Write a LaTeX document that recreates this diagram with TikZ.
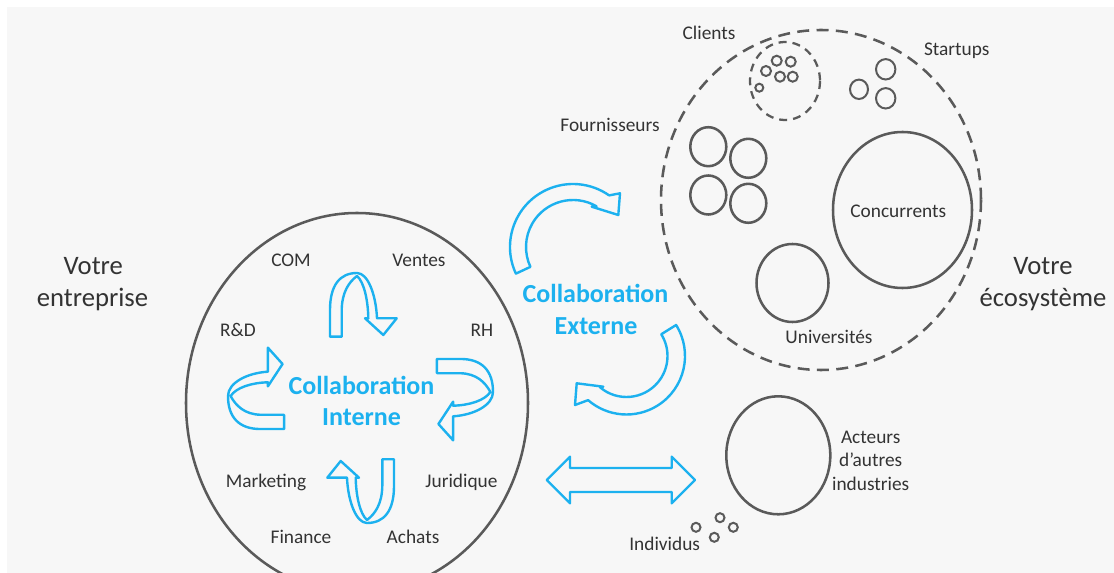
\documentclass[tikz,border=0pt]{standalone}
\usepackage{fontspec}
\setmainfont{Carlito}
\definecolor{bgc}{HTML}{F7F7F7}
\definecolor{inkc}{HTML}{333333}
\definecolor{ringc}{HTML}{5A5A5A}
\definecolor{bluec}{HTML}{1CB1EF}
\tikzset{
  ringline/.style={draw=ringc, line width=1.9pt},
  smallring/.style={draw=ringc, line width=1.5pt},
  dashring/.style={draw=ringc, line width=1.9pt, dash pattern=on 9pt off 5.5pt},
  dashsmall/.style={draw=ringc, line width=1.7pt, dash pattern=on 6pt off 4.5pt},
  blueshape/.style={draw=bluec, line width=1.8pt, line join=round},
  lab/.style={text=inkc, font=\fontsize{14.5}{17}\selectfont, inner sep=0pt, anchor=base},
  biglab/.style={text=inkc, font=\fontsize{20}{24}\selectfont, inner sep=0pt, anchor=base},
  bluelab/.style={text=bluec, font=\bfseries\fontsize{19.5}{23}\selectfont, inner sep=0pt, anchor=base},
}
% ribbon-like U-turn arrow; #1 width scale, #2 depth scale, #3 outward offset
\newcommand{\ribbonarrow}[3]{%
  \draw[blueshape] ({-32*#1},{-61.3*#2+(#3)}) -- ({-32*#1},{-88*#2+(#3)})
    .. controls ({-32*#1},{-113*#2+(#3)}) and ({-22*#1},{-125*#2+(#3)}) .. ({-5*#1},{-125*#2+(#3)})
    .. controls ({6*#1},{-125*#2+(#3)}) and ({14*#1},{-103*#2+(#3)}) .. ({15*#1},{-79.7*#2+(#3)})
    -- ({34.7*#1},{-79.7*#2+(#3)}) -- ({21.3*#1},{-63*#2+(#3)}) -- ({3*#1},{-79.7*#2+(#3)})
    -- ({6.3*#1},{-79.7*#2+(#3)})
    .. controls ({6*#1},{-98*#2+(#3)}) and ({2*#1},{-116*#2+(#3)}) .. ({-5*#1},{-122*#2+(#3)})
    .. controls ({-13*#1},{-116*#2+(#3)}) and ({-20*#1},{-106*#2+(#3)}) .. ({-20.3*#1},{-88*#2+(#3)})
    -- ({-20.3*#1},{-61.3*#2+(#3)}) -- cycle;}
\begin{document}
\begin{tikzpicture}[x=0.75pt,y=-0.75pt]
\useasboundingbox (0,0) rectangle (1114,573);
\clip (0,0) rectangle (1114,573);
\fill[white] (0,0) rectangle (1114,573);
\fill[bgc] (7,7) rectangle (1114,573);

% ---------- your company ----------
\draw[ringline] (357,403) ellipse [x radius=171, y radius=190];

\begin{scope}[shift={(362,398)}] \ribbonarrow{1}{1}{0} \end{scope}
\begin{scope}[shift={(362,398)},rotate=180] \ribbonarrow{1}{1}{0} \end{scope}
\begin{scope}[shift={(362,398)},rotate=-90] \ribbonarrow{1.22}{0.88}{-21} \end{scope}
\begin{scope}[shift={(362,390)},rotate=90] \ribbonarrow{1.22}{0.88}{-24} \end{scope}

\node[lab] (com) at (291,267) {COM};
\node[lab] (ventes) at (419,267) {Ventes};
\node[lab] (rd) at (238,337) {R\&D};
\node[lab] (rh) at (482,337) {RH};
\node[lab] (marketing) at (266,488) {Marketing};
\node[lab] (juridique) at (461.5,488) {Juridique};
\node[lab] (finance) at (301,543) {Finance};
\node[lab] (achats) at (413,543) {Achats};

\node[bluelab] (ci1) at (361.5,395) {Collaboration};
\node[bluelab] (ci2) at (361.5,426) {Interne};

\node[biglab] (ve1) at (93.3,275) {Votre};
\node[biglab] (ve2) at (92.5,306.5) {entreprise};

% ---------- external collaboration ----------
\draw[blueshape] ({573+63*cos(155)},{247+63*sin(155)}) arc[start angle=155, end angle=305, radius=63]
  -- (620,193.3) -- (618.3,215) -- (591.7,206.7)
  -- ({573+47*cos(300)},{247+47*sin(300)}) arc[start angle=300, end angle=155, radius=47]
  -- cycle;

\draw[blueshape] ({626.5+58.5*cos(-32)},{356+58.5*sin(-32)}) arc[start angle=-32, end angle=131, radius=58.5]
  -- (575,405) -- (576.7,383.3) -- (603.3,386.7)
  -- ({626.5+41*cos(130)},{356+41*sin(130)}) arc[start angle=130, end angle=-32, radius=41]
  -- cycle;

\draw[blueshape] (546.7,480) -- (570,456.7) -- (570,468) -- (671.7,468) -- (671.7,456.7)
  -- (695,480) -- (671.7,503.3) -- (671.7,492) -- (570,492) -- (570,503.3) -- cycle;

\node[bluelab] (ce1) at (595.5,303) {Collaboration};
\node[bluelab] (ce2) at (596,335) {Externe};

% ---------- ecosystem ----------
\draw[dashring] (821,200) ellipse [x radius=160, y radius=170];
\draw[dashsmall] (785,81) ellipse [x radius=35, y radius=39];
\foreach \p in {(776.7,60.7),(790.7,61.7),(766,71),(780,76.7),(792.7,76.7)}
  \draw[smallring] \p circle [radius=5];
\draw[smallring] (759.3,87.7) circle [radius=4];

\draw[smallring] (885.7,69.3) ellipse [x radius=9.7, y radius=10.2];
\draw[smallring] (859,89.3) ellipse [x radius=9, y radius=9.7];
\draw[smallring] (885.7,98.3) ellipse [x radius=9.7, y radius=10.2];

\foreach \p in {(708.3,146.7),(748.3,158.3),(708.3,195),(748.3,203.3)}
  \draw[ringline] \p ellipse [x radius=18, y radius=19.5];

\draw[ringline] (902.5,210) ellipse [x radius=69.5, y radius=78];
\draw[ringline] (792.5,283) ellipse [x radius=36, y radius=39];
\draw[ringline] (778.3,455.3) ellipse [x radius=52, y radius=59];

\foreach \p in {(696,527.3),(720,517.7),(733.3,527.3),(714.3,537.3)}
  \draw[smallring] \p circle [radius=4.5];

\node[lab] (clients) at (709,40) {Clients};
\node[lab] (startups) at (956.7,56) {Startups};
\node[lab] (fourn) at (610,132) {Fournisseurs};
\node[lab] (conc) at (898.3,218) {Concurrents};
\node[lab] (univ) at (829,344) {Universités};
\node[lab] (act1) at (870.7,444) {Acteurs};
\node[lab] (act2) at (870.7,467) {d’autres};
\node[lab] (act3) at (870.7,490) {industries};
\node[lab] (indiv) at (664.7,550.5) {Individus};

\node[biglab] (vo1) at (1043,275) {Votre};
\node[biglab] (vo2) at (1043,306.5) {écosystème};
\end{tikzpicture}
\end{document}
